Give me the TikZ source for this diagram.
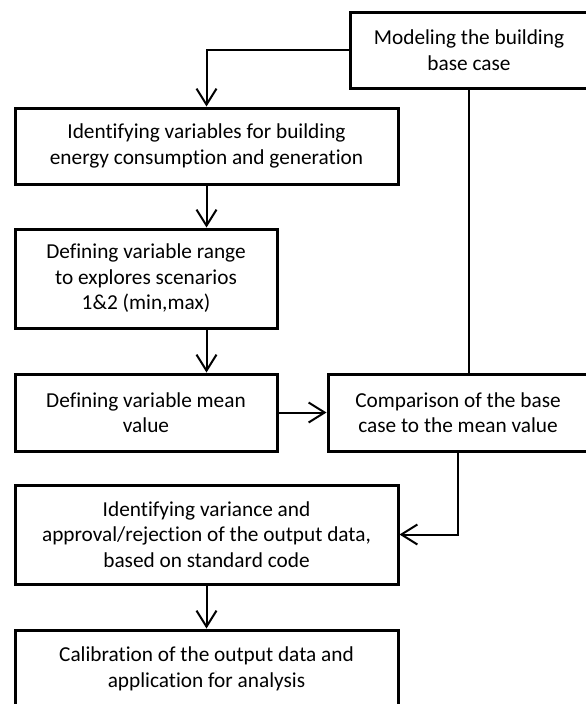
\documentclass[tikz,border=0pt]{standalone}
\usepackage{fontspec}
\setmainfont{Carlito}[Ligatures=NoCommon]
\usetikzlibrary{arrows.meta}
\begin{document}
\begin{tikzpicture}[x=1pt,y=-1pt,>={Straight Barb[length=16pt,width=20pt]},
    box/.style={draw,line width=3pt,align=center,inner sep=0pt,
        font=\fontsize{21.3}{25.5}\selectfont},
    link/.style={line width=2pt}]
\useasboundingbox (0,0) rectangle (586,704);
\node[box,minimum width=238pt,minimum height=76pt](model) at (469,50){Modeling the building\\base case};
\node[box,minimum width=383pt,minimum height=76pt](ident) at (206.5,146){Identifying variables for building\\energy consumption and generation};
\node[box,minimum width=262pt,minimum height=99pt](range) at (146,278.5){Defining variable range\\to explores scenarios\\1\&2 (min,max)};
\node[box,minimum width=262pt,minimum height=77pt](mean) at (146,412.5){Defining variable mean\\value};
\node[box,minimum width=260pt,minimum height=77pt](comp) at (458,412.5){Comparison of the base\\case to the mean value};
\node[box,minimum width=383pt,minimum height=99pt](var) at (206.5,534.5){Identifying variance and\\approval/rejection of the output data,\\based on standard code};
\node[box,minimum width=383pt,minimum height=78pt](calib) at (206.5,669){Calibration of the output data and\\application for analysis};
\draw[link,->](model.west)-|(ident.north);
\draw[link,->](ident.south)--(ident.south|-range.north);
\draw[link,->](ident.south|-range.south)--(ident.south|-mean.north);
\draw[link,->](mean.east)--(comp.west);
\draw[link](model.south)--(model.south|-comp.north);
\draw[link,->](comp.south)|-(var.east);
\draw[link,->](var.south)--(calib.north);
\end{tikzpicture}
\end{document}
